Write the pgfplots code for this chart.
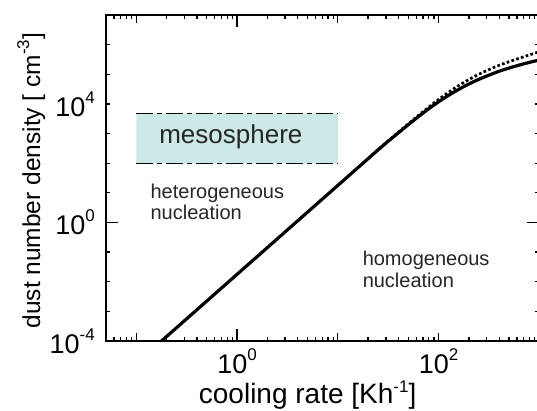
\documentclass[border=0pt]{standalone}
\usepackage{pgfplots}
\pgfplotsset{compat=1.18}
\usepackage{fontspec}
\setmainfont{Liberation Sans}
\definecolor{meso}{RGB}{204,232,231}
\newcommand\sups[1]{\raisebox{13pt}{\fontsize{17}{17}\selectfont #1}}
\newcommand\lsups[1]{\raisebox{11pt}{\fontsize{17}{17}\selectfont #1}}
\begin{document}
\begin{tikzpicture}
\clip (0,0) rectangle (537pt,410pt);
% main axis: data, x ticks
\begin{axis}[
  xmode=log, ymode=log,
  scale only axis, width=433.3pt, height=326pt,
  at={(106pt,69pt)}, anchor=south west,
  xmin=0.05, xmax=1000, ymin=1e-4, ymax=1e7,
  axis line style={line width=1.8pt, black},
  tick style={line width=1.3pt, black},
  tick align=inside, tick pos=both,
  xticklabel pos=lower,
  tick label style={font=\fontsize{27}{30}\selectfont},
  xticklabel style={inner sep=0pt, yshift=-7pt, anchor=north},
  xtick={0.1,1,10,100,1000},
  xticklabels={{},{10\sups{0}},{},{10\sups{2}},{}},
  minor xtick={0.06,0.07,0.08,0.09,0.2,0.3,0.4,0.5,0.6,0.7,0.8,0.9,2,3,4,5,6,7,8,9,20,30,40,50,60,70,80,90,200,300,400,500,600,700,800,900},
  major tick length=8pt, minor tick length=4pt,
  ytick=\empty, yminorticks=false,
  xlabel={cooling rate [Kh\lsups{-1}]},
  xlabel style={at={(axis description cs:0.4654,-0.1902)}, anchor=base, inner sep=0pt, font=\fontsize{28}{32}\selectfont},
  ylabel={dust number density [ cm\lsups{-3}]},
  ylabel style={at={(axis description cs:-0.1523,0.492)}, anchor=base, inner sep=0pt, font=\fontsize{24.5}{28}\selectfont},
]
\addplot[fill=meso, draw=none] coordinates {(0.1,100) (10,100) (10,4800) (0.1,4800) (0.1,100)};
\addplot[line width=1.3pt, dash pattern=on 17pt off 4pt on 5pt off 4pt] coordinates {(0.1,4800) (10,4800)};
\addplot[line width=1.3pt, dash pattern=on 17pt off 4pt on 5pt off 4pt] coordinates {(0.1,100) (10,100)};
\addplot[line width=3.2pt, black, smooth, tension=0.5] coordinates {
(0.1585,7.08e-5) (1,0.01778) (3.162,0.5623) (10,17.78) (15.85,70.79) (25.12,281.8)
(31.62,549.5) (39.81,1047) (50.12,1995) (63.10,3715) (79.43,6761) (100,11750)
(125.9,19500) (158.5,30900) (199.5,46770) (251.2,67610) (316.2,93330) (398.1,125900)
(501.2,162200) (631.0,204200) (794.3,251200) (1000,302000)};
\addplot[line width=2.7pt, black, dash pattern=on 2.7pt off 2.3pt, smooth, tension=0.5] coordinates {
(19.95,141.3) (25.12,288.4) (39.81,1096) (63.10,4074) (100,14130) (158.5,41690)
(251.2,100000) (398.1,199500) (631.0,346700) (1000,575400)};
\node[anchor=base, inner sep=0pt, text=black!85, font=\fontsize{26}{30}\selectfont] at (axis cs:0.868,447) {mesosphere};
\node[anchor=base west, inner sep=0pt, text=black!85, font=\fontsize{20}{24}\selectfont] at (axis cs:0.138,6.3) {heterogeneous};
\node[anchor=base west, inner sep=0pt, text=black!85, font=\fontsize{20}{24}\selectfont] at (axis cs:0.138,1.26) {nucleation};
\node[anchor=base west, inner sep=0pt, text=black!85, font=\fontsize{20}{24}\selectfont] at (axis cs:17.6,0.0356) {homogeneous};
\node[anchor=base west, inner sep=0pt, text=black!85, font=\fontsize{20}{24}\selectfont] at (axis cs:17.6,0.0065) {nucleation};
\end{axis}
% y ticks and labels
\begin{axis}[
  xmode=log, ymode=log,
  scale only axis, width=433.3pt, height=326pt,
  at={(106pt,69pt)}, anchor=south west,
  xmin=0.05, xmax=1000, ymin=1e-4, ymax=1e7,
  axis line style={line width=1.8pt, black},
  tick style={line width=1.3pt, black},
  tick align=inside, tick pos=both,
  yticklabel pos=left,
  tick label style={font=\fontsize{27}{30}\selectfont},
  yticklabel style={inner sep=0pt, xshift=-11pt, anchor=east},
  xtick=\empty, xminorticks=false,
  ytick={1e-4,1,1e4},
  yticklabels={{10\sups{-4}},{10\sups{0}},{10\sups{4}}},
  minor ytick={1e-3,1e-2,1e-1,10,100,1000,1e5,1e6},
  major tick length=4pt, minor tick length=4pt,
]
\end{axis}
% long ticks at 10^0
\begin{axis}[
  xmode=log, ymode=log,
  scale only axis, width=433.3pt, height=326pt,
  at={(106pt,69pt)}, anchor=south west,
  xmin=0.05, xmax=1000, ymin=1e-4, ymax=1e7,
  axis line style={line width=1.8pt, black},
  tick style={line width=1.3pt, black},
  tick align=inside, tick pos=both,
  xtick={1}, ytick={1}, xticklabels={}, yticklabels={},
  xminorticks=false, yminorticks=false,
  major tick length=12pt,
]
\end{axis}
\end{tikzpicture}
\end{document}
